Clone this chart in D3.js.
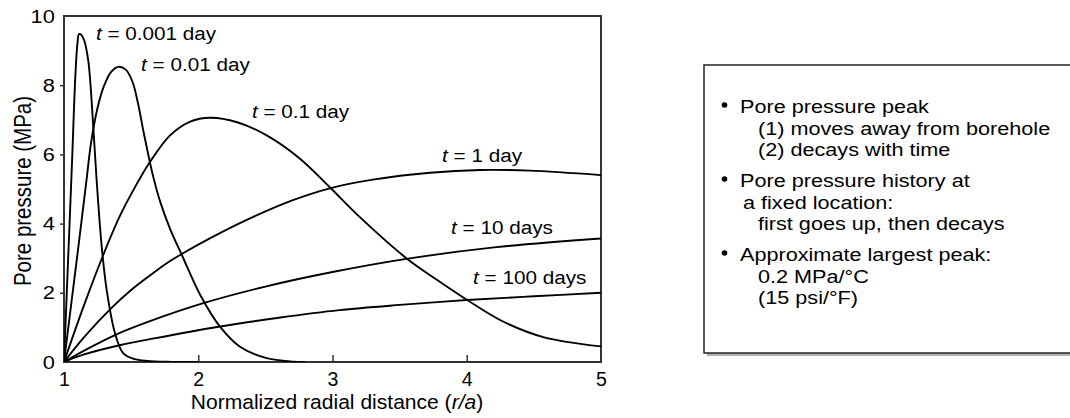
<!DOCTYPE html>
<html>
<head>
<meta charset="utf-8">
<script src="https://cdn.jsdelivr.net/npm/d3@7"></script>
<style>
  html, body { margin: 0; padding: 0; background: #fff; }
  svg { display: block; font-family: "Liberation Sans", Arial, Helvetica, sans-serif; }
</style>
</head>
<body>
<svg id="chart" width="1070" height="418"></svg>
<script>
// ---- data: pore pressure (MPa) vs normalized radial distance r/a ----
const xTicks = [1, 2, 3, 4, 5];
const yTicks = [0, 2, 4, 6, 8, 10];

const seriesTimes = ["0.001 day", "0.01 day", "0.1 day", "1 day", "10 days", "100 days"];

const p0001 = [[1,0],[1.03,2.9],[1.06,5.8],[1.085,8.3],[1.1,9.2],[1.112,9.48],[1.13,9.45],[1.15,9.3],
  [1.181,8.7],[1.218,6.8],[1.243,5.26],[1.281,3.33],[1.318,2.08],[1.38,0.83],[1.442,0.25],
  [1.52,0.09],[1.62,0.03],[1.8,0.005],[2.0,0]];
const p001 = [[1,0],[1.045,1.4],[1.095,2.95],[1.169,5.3],[1.2,6.3],[1.25,7.35],[1.3,8.0],[1.35,8.38],
  [1.404,8.53],[1.46,8.45],[1.51,8.1],[1.55,7.5],[1.59,6.7],[1.63,5.95],[1.665,5.35],[1.715,4.65],
  [1.79,3.85],[1.877,3.1],[2.013,1.95],[2.162,1.02],[2.311,0.44],[2.51,0.11],[2.708,0.01],[2.8,0]];
const p01 = [[1,0],[1.15,1.65],[1.293,3.1],[1.42,4.25],[1.553,5.22],[1.64,5.78],[1.79,6.55],[1.94,6.95],
  [2.09,7.06],[2.29,6.93],[2.51,6.55],[2.76,5.87],[2.98,5.05],[3.2,4.2],[3.55,3.0],[3.78,2.37],
  [4.0,1.8],[4.27,1.17],[4.57,0.72],[5.0,0.45]];
const p1 = [[1,0],[1.15,0.72],[1.343,1.52],[1.5,2.08],[1.64,2.5],[1.76,2.84],[1.877,3.12],[2.1,3.6],
  [2.385,4.15],[2.7,4.67],[2.98,5.02],[3.3,5.27],[3.726,5.47],[4.1,5.55],[4.47,5.53],[5.0,5.4]];
const p10 = [[1,0],[1.15,0.33],[1.38,0.78],[1.64,1.18],[2.038,1.7],[2.5,2.18],[3.0,2.6],[3.55,2.98],
  [4.22,3.32],[5.0,3.57]];
const p100 = [[1,0],[1.15,0.22],[1.43,0.5],[1.64,0.66],[2.15,1.02],[2.6,1.28],[3.05,1.5],[3.5,1.65],
  [4.0,1.79],[4.5,1.9],[5.0,2.0]];

const seriesValues = [p0001, p001, p01, p1, p10, p100];

// label anchor points (data coordinates, left end of text baseline)
const labelAnchors = [[1.238, 9.31], [1.574, 8.41], [2.40, 7.05], [3.816, 5.78], [3.883, 3.70], [4.047, 2.25]];

const noteGroups = [
  { head: "Pore pressure peak", lines: [["(1) moves away from borehole", 1], ["(2) decays with time", 1]] },
  { head: "Pore pressure history at", lines: [["a fixed location:", 0], ["first goes up, then decays", 1]] },
  { head: "Approximate largest peak:", lines: [["0.2 MPa/°C", 1], ["(15 psi/°F)", 1]] }
];

// ---- layout ----
const svg = d3.select("#chart");
const plot = { left: 64, right: 601, top: 16, bottom: 362 };

const x = d3.scaleLinear().domain([1, 5]).range([plot.left, plot.right]);
const y = d3.scaleLinear().domain([0, 10]).range([plot.bottom, plot.top]);

const frameColor = "#333";
const ink = "#000";

// horizontally widened text helper
function wideText(parent, px, py, sx, size, anchor) {
  return parent.append("text")
    .attr("transform", `translate(${px},${py}) scale(${sx},1)`)
    .attr("font-size", size)
    .attr("text-anchor", anchor || "start")
    .attr("fill", ink);
}

svg.append("defs").append("clipPath").attr("id", "plot-clip")
  .append("rect")
  .attr("x", plot.left).attr("y", plot.top)
  .attr("width", plot.right - plot.left).attr("height", plot.bottom - plot.top);

// ---- axes ----
const yAxis = d3.axisLeft(y).tickValues(yTicks).tickFormat(d3.format("d"))
  .tickSize(4).tickPadding(4).tickSizeOuter(0);
const gy = svg.append("g").attr("transform", `translate(${plot.left},0)`).call(yAxis);
gy.select(".domain").remove();
gy.selectAll(".tick line").attr("stroke", frameColor).attr("stroke-width", 1.5)
  .attr("opacity", d => (d === 0 || d === 10) ? 0 : 1);
gy.selectAll(".tick text").attr("font-size", 19).attr("fill", ink)
  .attr("font-family", "Liberation Sans, Arial, sans-serif")
  .attr("transform", "scale(1.15,1)");

const xAxis = d3.axisBottom(x).tickValues(xTicks).tickFormat(d3.format("d"))
  .tickSize(-7).tickPadding(10).tickSizeOuter(0);
const gx = svg.append("g").attr("transform", `translate(0,${plot.bottom})`).call(xAxis);
gx.select(".domain").remove();
gx.selectAll(".tick line").attr("stroke", frameColor).attr("stroke-width", 1.5)
  .attr("opacity", d => (d === 1 || d === 5) ? 0 : 1);
gx.selectAll(".tick text").attr("font-size", 19.5).attr("fill", ink)
  .attr("font-family", "Liberation Sans, Arial, sans-serif");

// plot frame
svg.append("rect")
  .attr("x", x(1)).attr("y", y(10))
  .attr("width", x(5) - x(1)).attr("height", y(0) - y(10))
  .attr("fill", "none").attr("stroke", frameColor).attr("stroke-width", 2);

// ---- curves ----
const line = d3.line().x(d => x(d[0])).y(d => y(d[1])).curve(d3.curveCatmullRom.alpha(0.5));
svg.append("g").attr("clip-path", "url(#plot-clip)")
  .selectAll("path")
  .data(seriesValues)
  .join("path")
  .attr("d", line)
  .attr("fill", "none")
  .attr("stroke", ink)
  .attr("stroke-width", 1.9)
  .attr("stroke-linejoin", "round");

// ---- curve labels ----
seriesTimes.forEach((name, i) => {
  const [lx, ly] = labelAnchors[i];
  const t = wideText(svg, x(lx), y(ly), 1.09, 19);
  t.append("tspan").attr("font-style", "italic").text("t");
  t.append("tspan").text(" = " + name);
});

// ---- axis titles ----
const xt = wideText(svg, 337, 409, 1.08, 19.5, "middle");
xt.append("tspan").text("Normalized radial distance (");
xt.append("tspan").attr("font-style", "italic").text("r/a");
xt.append("tspan").text(")");

svg.append("text")
  .attr("transform", "translate(31,191) scale(1.2,1) rotate(-90)")
  .attr("text-anchor", "middle")
  .attr("font-size", 20.5)
  .attr("fill", ink)
  .text("Pore pressure (MPa)");

// ---- notes box ----
const box = { x: 704, y: 65, w: 420, h: 288 };
svg.append("rect")
  .attr("x", box.x + 3).attr("y", box.y + 3).attr("width", box.w).attr("height", box.h)
  .attr("fill", "#b3b3b3");
svg.append("rect")
  .attr("x", box.x).attr("y", box.y).attr("width", box.w).attr("height", box.h)
  .attr("fill", "#fff").attr("stroke", "#222").attr("stroke-width", 1.5);

let baseY = 113;
const lineGap = 21.5, groupGap = 31;
noteGroups.forEach(g => {
  svg.append("circle").attr("cx", 724.5).attr("cy", baseY - 8).attr("r", 2.8).attr("fill", ink);
  wideText(svg, 740, baseY, 1.17, 18.5).text(g.head);
  let yy = baseY;
  g.lines.forEach(([txt, indent]) => {
    yy += lineGap;
    wideText(svg, indent ? 758 : 743, yy, 1.17, 18.5).text(txt);
  });
  baseY = yy + groupGap;
});
</script>
</body>
</html>
